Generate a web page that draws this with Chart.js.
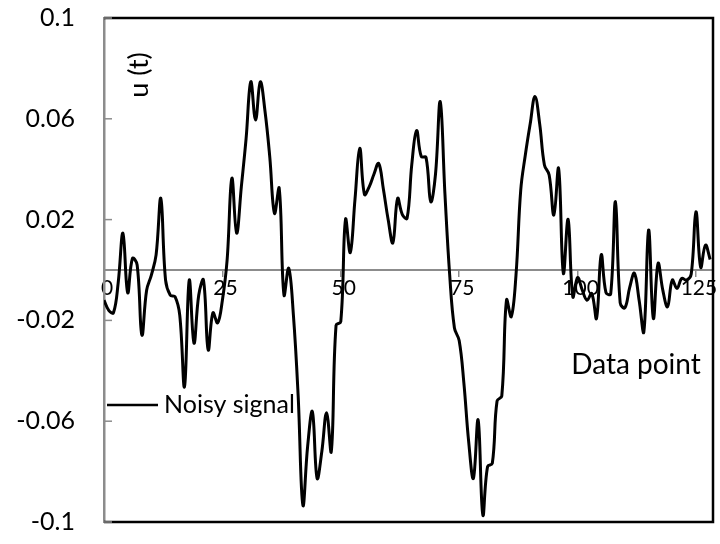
<!DOCTYPE html>
<html lang="en">
<head>
<meta charset="UTF-8">
<title>Noisy signal</title>
<script src="https://cdn.jsdelivr.net/npm/chart.js"></script>
<style>
  body { margin: 0; background: #fff; }
  #wrap { width: 720px; height: 544px; }
</style>
</head>
<body>
<div id="wrap"><canvas id="signalChart" width="720" height="544"></canvas></div>
<script>
// u(t) at each data point 0..128
const signalValues = [
  -0.012, -0.016, -0.017, -0.005, 0.0146, -0.009, 0.0046, 0.002, -0.0258, -0.008,
  -0.002, 0.006, 0.0284, -0.004, -0.010, -0.0106, -0.018, -0.0463, -0.004, -0.029,
  -0.010, -0.004, -0.0317, -0.017, -0.021, -0.012, 0.004, 0.0364, 0.0146, 0.033,
  0.052, 0.0747, 0.0595, 0.0747, 0.063, 0.045, 0.0225, 0.0324, -0.0099, 0.0007,
  -0.018, -0.050, -0.0933, -0.070, -0.0562, -0.0827, -0.072, -0.0566, -0.072, -0.022,
  -0.0205, 0.0201, 0.0069, 0.028, 0.0483, 0.030, 0.033, 0.038, 0.0423, 0.032,
  0.020, 0.0108, 0.0284, 0.022, 0.0205, 0.042, 0.0553, 0.045, 0.0447, 0.0271,
  0.038, 0.0668, 0.030, -0.002, -0.023, -0.028, -0.045, -0.068, -0.0827, -0.0595,
  -0.0972, -0.078, -0.0767, -0.052, -0.050, -0.0119, -0.0185, -0.002, 0.0317, 0.046,
  0.058, 0.0688, 0.058, 0.0417, 0.0377, 0.0218, 0.0403, -0.0013, 0.0201, -0.0106,
  -0.003, -0.008, -0.012, -0.0093, -0.0192, 0.006, -0.009, -0.0095, 0.0271, -0.013,
  -0.015, -0.007, -0.0013, -0.012, -0.0245, 0.0159, -0.0192, 0.0026, -0.008, -0.0146,
  -0.004, -0.0073, -0.0033, -0.004, -0.0016, 0.0231, 0.0011, 0.0099, 0.0042
];
const xTickLabels = [0, 25, 50, 75, 100, 125];
const yTickLabels = [-0.1, -0.06, -0.02, 0.02, 0.06, 0.1];

const FONT = 'Lato';

// frame, inner y ticks, axis titles and the legend
const decorations = {
  id: 'decorations',
  afterDraw(chart) {
    const { ctx, chartArea: a, scales } = chart;
    ctx.save();
    ctx.strokeStyle = '#000';
    ctx.lineWidth = 2.5;
    ctx.beginPath();
    ctx.moveTo(a.left, a.top);
    ctx.lineTo(a.right, a.top);
    ctx.lineTo(a.right, a.bottom);
    ctx.lineTo(a.left, a.bottom);
    ctx.stroke();

    ctx.strokeStyle = '#8c8c8c';
    ctx.lineWidth = 1.5;
    yTickLabels.forEach(v => {
      const y = scales.y.getPixelForValue(v);
      ctx.beginPath();
      ctx.moveTo(a.left, y);
      ctx.lineTo(a.left + 8, y);
      ctx.stroke();
    });

    ctx.fillStyle = '#000';
    ctx.font = '27px ' + FONT;
    ctx.textAlign = 'center';
    ctx.textBaseline = 'middle';
    ctx.save();
    ctx.translate(a.left + 35, a.top + 57);
    ctx.rotate(-Math.PI / 2);
    ctx.fillText('u (t)', 0, 0);
    ctx.restore();

    ctx.font = '28px ' + FONT;
    ctx.fillText('Data point', a.right - 77, a.top + 347);

    // legend
    const ly = a.top + 387;
    ctx.strokeStyle = '#000';
    ctx.lineWidth = 2.5;
    ctx.beginPath();
    ctx.moveTo(a.left + 3, ly);
    ctx.lineTo(a.left + 54, ly);
    ctx.stroke();
    ctx.font = '25px ' + FONT;
    ctx.textAlign = 'left';
    ctx.fillText(chart.data.datasets[0].label, a.left + 60, ly);
    ctx.restore();
  }
};

new Chart(document.getElementById('signalChart'), {
  type: 'line',
  data: {
    datasets: [{
      label: 'Noisy signal',
      data: signalValues.map((v, i) => ({ x: i, y: v })),
      borderColor: '#000',
      borderWidth: 3,
      pointRadius: 0,
      tension: 0.4,
      fill: false
    }]
  },
  options: {
    responsive: false,
    animation: false,
    layout: { padding: { top: 18, right: 7, bottom: 22, left: 0 } },
    plugins: { legend: { display: false }, tooltip: { enabled: false } },
    scales: {
      x: {
        type: 'linear',
        position: { y: 0 },
        min: 0,
        max: 128.6,
        afterBuildTicks: s => { s.ticks = xTickLabels.map(v => ({ value: v })); },
        border: { color: '#8c8c8c', width: 2 },
        grid: { drawOnChartArea: false, drawTicks: true, tickLength: 6, color: '#8c8c8c', lineWidth: 1.5 },
        ticks: { font: { family: FONT, size: 21 }, color: '#000', padding: 0, labelOffset: 3, maxRotation: 0 }
      },
      y: {
        min: -0.1,
        max: 0.1,
        afterBuildTicks: s => { s.ticks = yTickLabels.map(v => ({ value: v })); },
        afterFit: s => { s.width = 104; },
        border: { color: '#8c8c8c', width: 2.5 },
        // invisible tick marks only push the labels away from the axis
        grid: { drawOnChartArea: false, drawTicks: true, tickLength: 29, color: 'rgba(0,0,0,0)' },
        ticks: {
          font: { family: FONT, size: 25 },
          color: '#000',
          padding: 0,
          callback: v => String(Math.round(v * 100) / 100)
        }
      }
    }
  },
  plugins: [decorations]
});
</script>
</body>
</html>
